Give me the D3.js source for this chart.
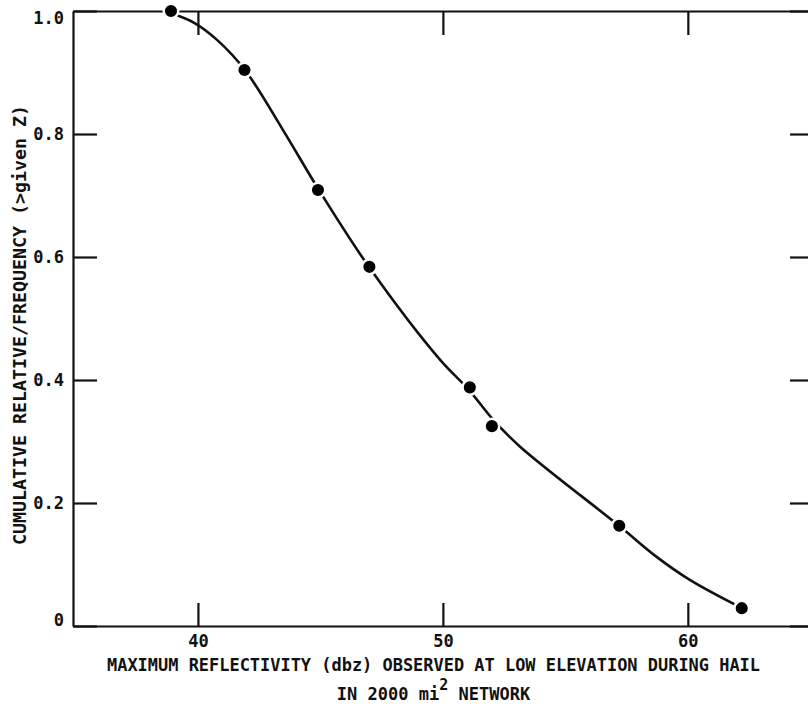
<!DOCTYPE html>
<html>
<head>
<meta charset="utf-8">
<script src="https://cdn.jsdelivr.net/npm/d3@7"></script>
<style>
  body { margin: 0; background: #fff; }
  svg { display: block; }
  text { font-family: "DejaVu Sans Mono", monospace; fill: #111; font-weight: bold; }
</style>
</head>
<body>
<div id="chart"></div>
<script>
"use strict";

// === DATA ===
// plotted observations
const dbz = [38.9, 41.9, 44.9, 47.0, 51.1, 52.0, 57.2, 62.2];
const freq = [1.0, 0.904, 0.709, 0.584, 0.388, 0.325, 0.163, 0.029];

// hand-fitted curve (it misses some dots slightly)
const curveDbz = [38.86, 39.88, 40.78, 41.92, 43.48, 44.94, 46.98, 49.88, 51.06, 52.04, 53.14, 57.19, 58.74, 60.08, 62.21];
const curveFreq = [0.997, 0.980, 0.953, 0.904, 0.806, 0.709, 0.584, 0.433, 0.384, 0.336, 0.292, 0.163, 0.112, 0.075, 0.029];

const xTicks = [40, 50, 60];
const xTickLabels = ["40", "50", "60"];
const yTicks = [0, 0.2, 0.4, 0.6, 0.8, 1.0];
const yTickLabels = ["0", "0.2", "0.4", "0.6", "0.8", "1.0"];

const points = dbz.map((d, i) => ({ x: d, y: freq[i] }));
const curvePts = curveDbz.map((d, i) => ({ x: d, y: curveFreq[i] }));

// === SVG SETUP ===
const width = 808, height = 704;
const frame = { left: 73, right: 814, top: 11, bottom: 626 };

const svg = d3.select("#chart")
  .append("svg")
  .attr("width", width)
  .attr("height", height);

// === SCALES ===
const x = d3.scaleLinear().domain([34.9, 65.15]).range([frame.left, frame.right]);
const y = d3.scaleLinear().domain([0, 1]).range([frame.bottom, frame.top]);

// === AXES (ticks point inward on all four sides) ===
const fontSize = 17;

svg.append("g")
  .attr("transform", `translate(0, ${frame.bottom})`)
  .call(d3.axisBottom(x).tickValues(xTicks).tickSize(-23).tickSizeOuter(0)
    .tickPadding(9).tickFormat((d, i) => xTickLabels[i]));

const gLeft = svg.append("g")
  .attr("transform", `translate(${frame.left}, 0)`)
  .call(d3.axisLeft(y).tickValues(yTicks).tickSize(-24).tickSizeOuter(0)
    .tickPadding(9).tickFormat((d, i) => yTickLabels[i]));

svg.append("g")
  .attr("transform", `translate(0, ${frame.top})`)
  .call(d3.axisTop(x).tickValues(xTicks).tickSize(-24).tickSizeOuter(0).tickFormat(""));

svg.append("g")
  .attr("transform", `translate(${frame.right}, 0)`)
  .call(d3.axisRight(y).tickValues(yTicks).tickSize(-24).tickSizeOuter(0).tickFormat(""));

svg.selectAll(".domain, .tick line")
  .attr("stroke", "#111")
  .attr("stroke-width", 2.2);

svg.selectAll(".tick text")
  .attr("font-size", fontSize)
  .attr("font-family", "DejaVu Sans Mono, monospace")
  .attr("font-weight", "bold")
  .attr("fill", "#111");

// nudge the end labels like the original lettering
gLeft.selectAll(".tick text")
  .filter(d => d === 0).attr("dy", "-0.05em");
gLeft.selectAll(".tick text")
  .filter(d => d === 1).attr("dy", "0.75em");

// === CURVE ===
const line = d3.line()
  .x(d => x(d.x))
  .y(d => y(d.y))
  .curve(d3.curveCatmullRom.alpha(0.5));

svg.append("path")
  .datum(curvePts)
  .attr("d", line)
  .attr("fill", "none")
  .attr("stroke", "#111")
  .attr("stroke-width", 2.6);

// === POINTS (white halo gives the little gaps in the curve) ===
svg.selectAll("circle.pt")
  .data(points)
  .enter()
  .append("circle")
  .attr("class", "pt")
  .attr("cx", d => x(d.x))
  .attr("cy", d => y(d.y))
  .attr("r", 7.3)
  .attr("fill", "#000")
  .attr("stroke", "#fff")
  .attr("stroke-width", 2.5);

// === AXIS TITLES ===
svg.append("text")
  .attr("x", 433.5)
  .attr("y", 671)
  .attr("text-anchor", "middle")
  .attr("font-size", fontSize)
  .attr("textLength", 653)
  .attr("lengthAdjust", "spacingAndGlyphs")
  .text("MAXIMUM REFLECTIVITY (dbz) OBSERVED AT LOW ELEVATION DURING HAIL");

const line2 = svg.append("text")
  .attr("x", 433.5)
  .attr("y", 700)
  .attr("text-anchor", "middle")
  .attr("font-size", fontSize);
line2.append("tspan").text("IN 2000 mi");
line2.append("tspan").attr("dy", -10).attr("font-size", 15).text("2");
line2.append("tspan").attr("dy", 10).text(" NETWORK");

svg.append("text")
  .attr("transform", "translate(26, 325) rotate(-90)")
  .attr("text-anchor", "middle")
  .attr("font-size", fontSize)
  .attr("textLength", 440)
  .attr("lengthAdjust", "spacingAndGlyphs")
  .text("CUMULATIVE RELATIVE/FREQUENCY (>given Z)");
</script>
</body>
</html>
